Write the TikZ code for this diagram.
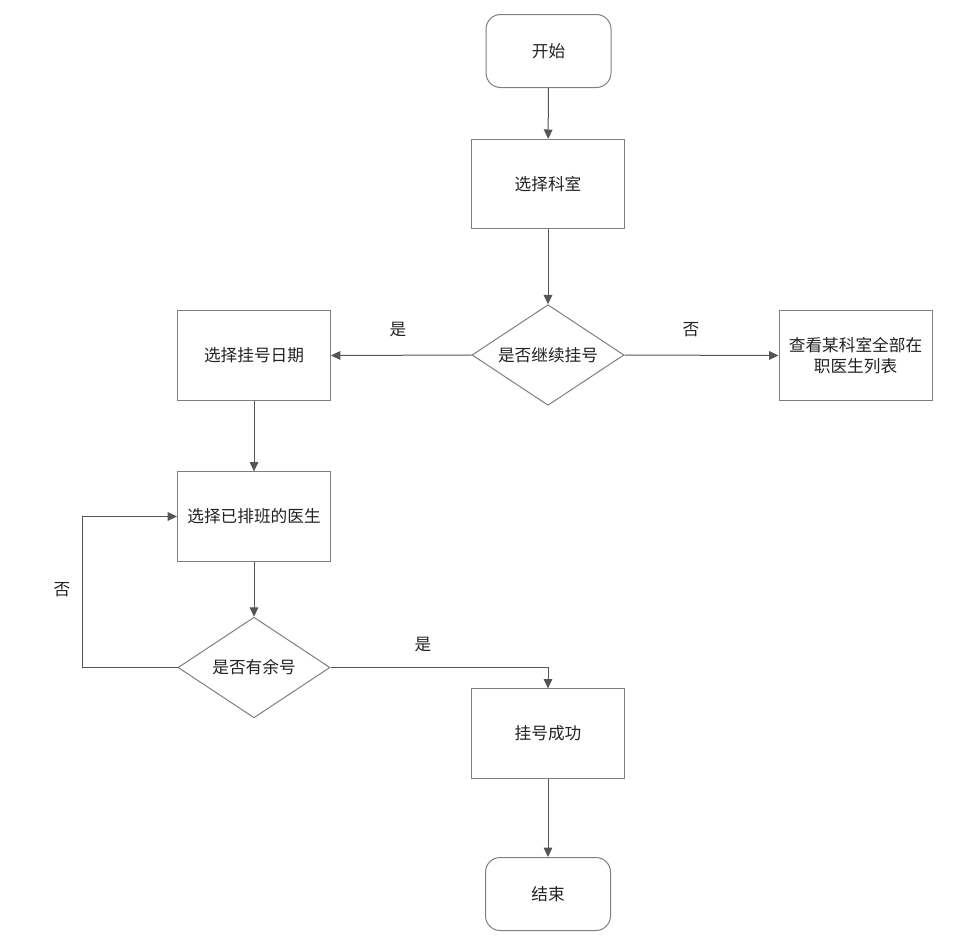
\documentclass[tikz,border=0pt]{standalone}
\usepackage{fontspec}
\setmainfont{Noto Sans CJK SC}
\usetikzlibrary{shapes.geometric,arrows.meta}
\definecolor{bordc}{HTML}{7F7F7F}
\definecolor{linec}{HTML}{555555}
\definecolor{txtc}{HTML}{222222}
\begin{document}
\begin{tikzpicture}[x=0.75pt,y=-0.75pt,
  every node/.style={font=\fontsize{12.5pt}{16pt}\selectfont, text=txtc, inner sep=0pt},
  term/.style={draw=bordc, line width=0.75pt, rounded corners=11pt, minimum width=93.75pt, minimum height=54.75pt},
  proc/.style={draw=bordc, line width=0.75pt, minimum width=114.75pt, minimum height=67pt, align=center},
  dec/.style={draw=bordc, line width=0.75pt, diamond, aspect=1.5, minimum width=114pt, minimum height=75.5pt},
  conn/.style={draw=linec, line width=0.75pt, -{Triangle[length=7pt,width=6.5pt]}},
  lbl/.style={}]
\useasboundingbox (0,0) rectangle (979,946);
\node[term] (start) at (548.5,51) {开始};
\node[proc] (dept) at (548,184) {选择科室};
\node[dec] (d1) at (548,355) {是否继续挂号};
\node[proc] (date) at (254,355.5) {选择挂号日期};
\node[proc] (list) at (855.5,355.5) {查看某科室全部在\\职医生列表};
\node[proc] (doc) at (254,516.5) {选择已排班的医生};
\node[dec] (d2) at (254,667.5) {是否有余号};
\node[proc] (ok) at (548,733.5) {挂号成功};
\node[term] (end) at (548,894) {结束};
\coordinate (loop) at (82,667.5);

\draw[conn] (start) -- (dept);
\draw[conn] (dept) -- (d1);
\draw[conn] (d1.west) -- (date.east);
\draw[conn] (d1.east) -- (list.west);
\draw[conn] (date) -- (doc);
\draw[conn] (doc) -- (d2);
\draw[conn] (d2.west) -- (loop) |- (doc.west);
\draw[conn] (d2.east) -| (ok.north);
\draw[conn] (ok) -- (end);

\node[lbl] (l1) at (398,330) {是};
\node[lbl] (l2) at (691,330) {否};
\node[lbl] (l3) at (62,590) {否};
\node[lbl] (l4) at (423,645) {是};
\end{tikzpicture}
\end{document}
